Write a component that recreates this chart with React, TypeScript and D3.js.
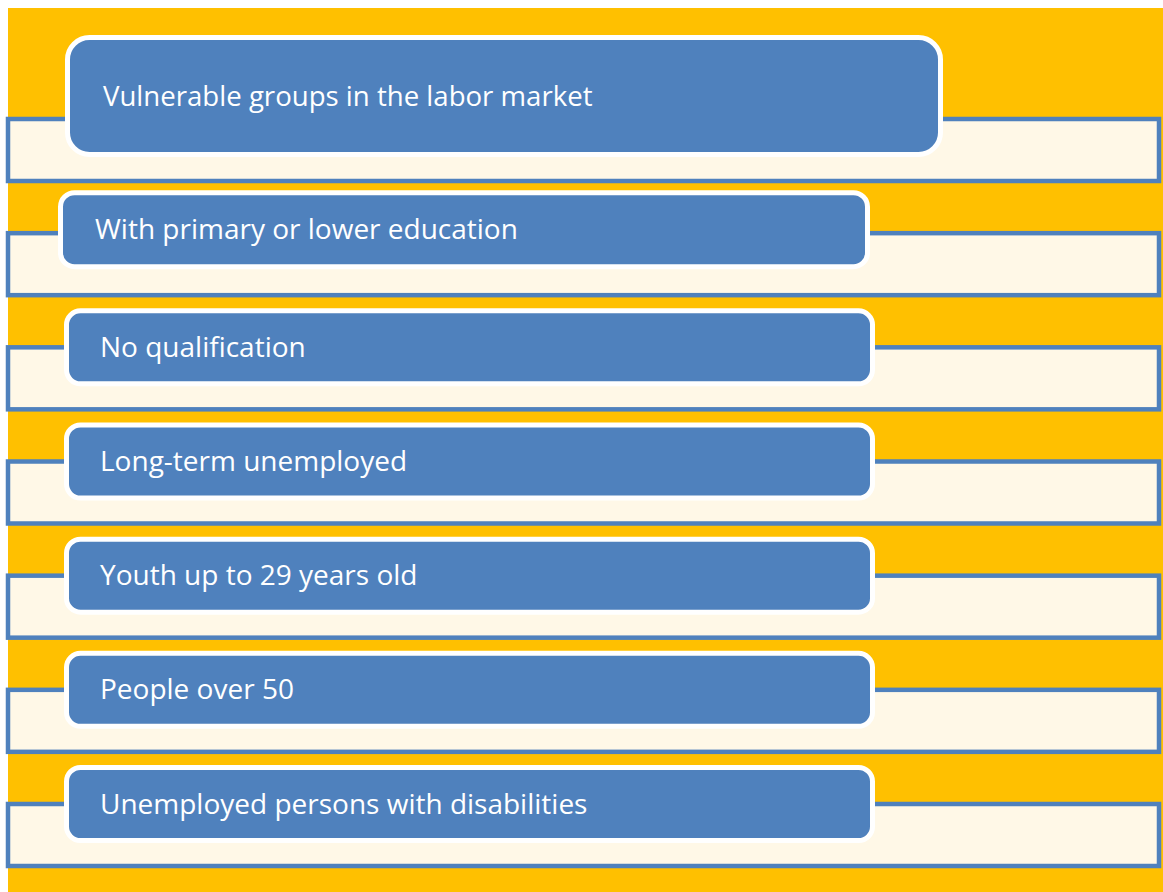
import React from "react";
import * as d3 from "d3";

const labels: string[] = [
  "Vulnerable groups in the labor market",
  "With primary or lower education",
  "No qualification",
  "Long-term unemployed",
  "Youth up to 29 years old",
  "People over 50",
  "Unemployed persons with disabilities",
];

const W = 1163;
const H = 892;
const BLUE = "#4F81BD";
const CREAM = "#FFF8E7";
const YELLOW = "#FFC000";

export default function App() {
  const idx = d3.range(labels.length);
  const y = d3.scaleLinear().domain([0, labels.length - 1]).range([117, 802]);
  const barH = 66;

  const boxGeom = (i: number) => {
    const t = y(i);
    if (i === 0) return { x: 65, y: 35, w: 943 - 65, h: 157 - 35, r: 22, tx: 103, fs: 27.6 };
    if (i === 1) return { x: 58, y: t - 41, w: 870 - 58, h: 79, r: 14, tx: 95, fs: 28 };
    return { x: 64, y: t - 37, w: 875 - 64, h: 78, r: 14, tx: 100, fs: 28 };
  };

  return (
    <div style={{ position: "absolute", left: 0, top: 0 }}>
      <svg width={W} height={H} style={{ display: "block" }}>
        <rect x={0} y={0} width={W} height={H} fill="#ffffff" />
        <rect x={8} y={8} width={W - 8} height={H - 8} fill={YELLOW} />
        {idx.map((i) => {
          const t = y(i);
          const b = boxGeom(i);
          const s = 5;
          return (
            <g key={i}>
              <rect x={8} y={t + 2} width={W - 8 - 4} height={barH - 4} fill={CREAM} stroke={BLUE} strokeWidth={4.5} />
              <rect
                x={b.x + s / 2}
                y={b.y + s / 2}
                width={b.w - s}
                height={b.h - s}
                rx={b.r}
                ry={b.r}
                fill={BLUE}
                stroke="#ffffff"
                strokeWidth={s}
              />
              <text
                x={b.tx}
                y={b.y + b.h / 2 + 9.5}
                fill="#ffffff"
                fontFamily="'Open Sans', 'Noto Sans', sans-serif"
                fontSize={b.fs}
              >
                {labels[i]}
              </text>
            </g>
          );
        })}
      </svg>
    </div>
  );
}
